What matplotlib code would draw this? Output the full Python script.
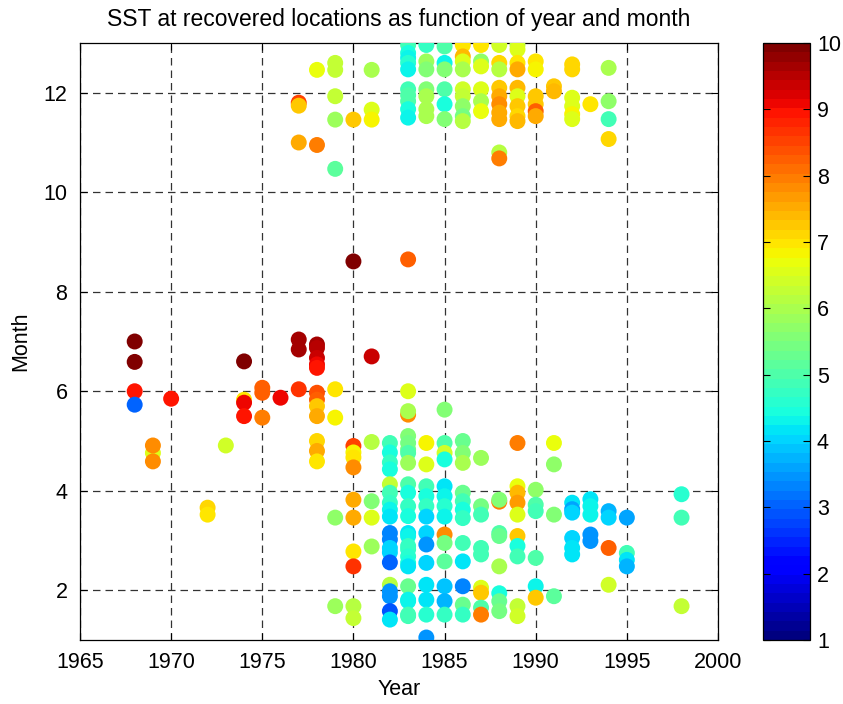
import matplotlib
matplotlib.use("Agg")
import matplotlib.pyplot as plt
import numpy as np

plt.rcParams['font.family'] = ['Liberation Sans', 'DejaVu Sans']

title = "SST at recovered locations as function of year and month"
x_label = "Year"
y_label = "Month"
x_ticks = [1965, 1970, 1975, 1980, 1985, 1990, 1995, 2000]
y_ticks = [2, 4, 6, 8, 10, 12]
cbar_ticks = [1, 2, 3, 4, 5, 6, 7, 8, 9, 10]

years = [1968, 1969, 1970, 1972, 1973, 1974, 1975, 1976, 1977, 1978, 1979, 1980,
         1981, 1982, 1983, 1984, 1985, 1986, 1987, 1988, 1989, 1990, 1991, 1992,
         1993, 1994, 1995, 1998]

months_by_year = [
    [7.0, 6.59, 6.0, 5.73],
    [4.76, 4.91, 4.59],
    [5.85],
    [3.66, 3.52],
    [4.91],
    [6.6, 5.83, 5.77, 5.5],
    [6.07, 5.97, 5.47],
    [5.87],
    [11.8, 11.74, 11.0, 7.04, 6.84, 6.04],
    [12.46, 10.95, 6.94, 6.87, 6.67, 6.54, 6.47, 5.97, 5.83, 5.7, 5.5, 5.0, 4.8, 4.59],
    [12.6, 12.46, 11.93, 11.46, 10.47, 6.04, 5.47, 3.46, 1.68],
    [11.46, 8.61, 4.9, 4.77, 4.67, 4.47, 3.82, 3.46, 2.78, 2.48, 1.68, 1.44],
    [12.46, 11.66, 11.46, 6.7, 4.98, 3.79, 3.46, 2.88],
    [2.11, 4.96, 4.77, 4.57, 4.43, 4.13, 3.96, 3.76, 3.62, 3.48, 3.15, 3.02, 2.85,
     2.76, 2.56, 1.98, 1.88, 1.58, 1.41],
    [12.96, 12.8, 12.7, 12.6, 12.47, 12.07, 11.95, 11.83, 11.67, 11.5,
     8.65, 6.0, 5.53, 5.6,
     5.1, 4.96, 4.83, 4.76, 4.56, 4.13, 3.96, 3.69, 3.49, 3.15, 3.09, 2.89, 2.82,
     2.68, 2.55, 2.48, 2.08, 1.81, 1.78, 1.51, 1.48],
    [12.96, 12.63, 12.47, 12.07, 11.93, 11.67, 11.53,
     4.96, 4.53, 4.09, 3.89, 3.69, 3.48, 3.15, 2.92, 2.55, 2.11, 1.81, 1.51, 1.05],
    [12.93, 12.6, 12.47, 12.07, 11.77, 11.47, 5.63,
     4.96, 4.76, 4.63, 4.09, 3.89, 3.69, 3.48, 3.12, 2.95, 2.58, 2.08, 1.78, 1.51],
    [12.96, 12.73, 12.63, 12.47, 12.07, 11.93, 11.73, 11.53, 11.43,
     5.0, 4.76, 4.56, 3.96, 3.79, 3.62, 3.45, 2.95, 2.58, 2.08, 1.71, 1.51],
    [12.96, 12.63, 12.53, 12.07, 11.83, 11.63,
     4.66, 3.69, 3.52, 2.85, 2.72, 2.05, 1.95, 1.65, 1.51],
    [12.96, 12.6, 12.47, 12.1, 11.93, 11.77, 11.6, 11.47, 10.8, 10.68,
     3.78, 3.82, 3.15, 3.09, 2.48, 1.94, 1.78, 1.58],
    [12.96, 12.87, 12.6, 12.47, 12.1, 11.93, 11.73, 11.53, 11.43,
     4.96, 4.09, 3.96, 3.76, 3.52, 3.09, 2.89, 2.68, 1.68, 1.48],
    [12.63, 12.47, 11.93, 11.77, 11.63, 11.53, 4.02, 3.72, 3.59, 2.65, 2.08, 1.85],
    [12.13, 12.03, 4.96, 4.53, 3.52, 1.88],
    [12.57, 12.47, 11.9, 11.73, 11.57, 11.47, 3.76, 3.63, 3.56, 3.05, 2.85, 2.72],
    [11.77, 3.83, 3.69, 3.52, 3.12, 2.99],
    [12.5, 11.83, 11.47, 11.07, 3.59, 3.46, 2.85, 2.11],
    [3.46, 2.75, 2.61, 2.48],
    [3.93, 3.46, 1.68],
]

sst_by_year = [
    [9.9, 9.9, 9.0, 3.1],
    [6.5, 7.8, 7.8],
    [8.9],
    [7.1, 7.0],
    [6.4],
    [10.0, 7.0, 9.1, 9.0],
    [8.3, 8.2, 8.0],
    [9.1],
    [8.5, 7.3, 7.5, 9.6, 9.6, 8.7],
    [6.7, 8.0, 9.6, 9.5, 9.4, 9.1, 9.0, 8.4, 8.3, 7.3, 7.6, 7.1, 7.6, 7.0],
    [6.3, 6.3, 6.3, 5.9, 5.2, 7.0, 6.8, 5.7, 5.8],
    [7.2, 10.0, 8.5, 6.8, 7.0, 7.8, 7.6, 7.6, 7.0, 8.6, 6.2, 6.3],
    [6.0, 6.5, 6.8, 9.3, 6.2, 5.6, 6.5, 5.9],
    [6.2, 4.8, 4.5, 4.7, 4.4, 6.3, 4.9, 4.7, 4.3, 4.1, 3.3, 3.3, 4.0,
     4.0, 3.0, 3.4, 3.5, 2.9, 4.1],
    [4.8, 4.5, 4.3, 4.6, 4.3, 4.8, 5.0, 5.0, 4.4, 4.3,
     8.3, 6.5, 7.8, 6.0,
     5.5, 5.4, 5.4, 5.0, 5.9, 5.0, 4.5, 4.7, 4.4, 4.2, 4.3, 4.7, 4.7,
     4.6, 4.5, 4.2, 5.3, 4.3, 4.3, 4.8, 4.8],
    [4.7, 5.8, 5.6, 5.5, 6.0, 6.0, 6.0,
     6.8, 6.5, 4.8, 4.4, 4.7, 4.0, 4.0, 3.5, 4.0, 4.2, 4.2, 4.6, 3.5],
    [5.0, 4.3, 5.5, 5.0, 4.5, 5.5, 5.6,
     5.0, 6.4, 4.5, 4.2, 4.3, 4.6, 4.3, 7.8, 5.4, 5.2, 3.9, 3.8, 4.7],
    [7.0, 7.4, 6.6, 6.0, 6.4, 6.3, 5.7, 5.4, 6.1,
     5.3, 5.5, 6.0, 5.3, 4.9, 4.4, 4.7, 4.9, 4.2, 3.3, 5.3, 4.7],
    [7.0, 5.7, 6.5, 6.6, 6.0, 6.7,
     5.8, 5.4, 4.8, 4.9, 4.8, 6.6, 7.3, 5.0, 8.0],
    [6.4, 7.1, 6.2, 7.3, 7.6, 7.8, 7.6, 7.5, 6.2, 8.0,
     8.0, 5.5, 5.0, 5.3, 6.0, 4.4, 5.3, 5.4],
    [6.3, 6.5, 7.0, 7.6, 7.4, 6.5, 7.2, 7.1, 7.4,
     7.9, 6.7, 7.4, 7.7, 6.5, 7.3, 4.4, 4.8, 6.3, 6.4],
    [7.0, 6.8, 7.2, 7.3, 8.3, 7.5, 5.7, 5.0, 4.9, 5.0, 4.3, 7.3],
    [7.2, 7.4, 6.7, 5.7, 5.6, 5.2],
    [7.1, 7.1, 6.5, 6.5, 6.8, 6.6, 4.2, 3.6, 4.0, 4.0, 4.2, 4.2],
    [7.0, 4.2, 4.3, 4.3, 3.4, 3.5],
    [6.0, 5.7, 4.9, 7.1, 3.8, 4.0, 8.3, 6.4],
    [3.6, 4.8, 4.2, 3.7],
    [4.6, 4.8, 6.3],
]

x_all, y_all, c_all = [], [], []
for yr, ms, ss in zip(years, months_by_year, sst_by_year):
    for m, s in zip(ms, ss):
        x_all.append(yr)
        y_all.append(m)
        c_all.append(s)

cmap = plt.get_cmap('jet').resampled(64)

fig = plt.figure(figsize=(8.43, 7.04), dpi=100)
ax = fig.add_axes([80/843, 1-640/704, (718-80)/843, (640-43)/704])
cax = fig.add_axes([763/843, 1-640/704, (810-763)/843, (640-43)/704])

sc = ax.scatter(x_all, y_all, c=c_all, cmap=cmap, vmin=1, vmax=10,
                s=132, edgecolors='none', zorder=3)

fs = 15.5
ax.set_xlim(1965, 2000)
ax.set_ylim(1, 13)
ax.set_xticks(x_ticks)
ax.set_yticks(y_ticks)
ax.grid(True, color='0.2', linestyle=(0, (6, 4)), linewidth=0.9, zorder=0)
ax.set_axisbelow(True)
ax.tick_params(direction='in', top=True, right=True, labelsize=fs, length=5)
ax.tick_params(axis='x', pad=9)
ax.tick_params(axis='y', pad=9)
for sp in ax.spines.values():
    sp.set_linewidth(0.9)
ax.set_xlabel(x_label, fontsize=fs, labelpad=4)
ax.set_ylabel(y_label, fontsize=fs, labelpad=9)
ax.set_title(title, fontsize=16.5, pad=12)

cb = fig.colorbar(sc, cax=cax, ticks=cbar_ticks)
cb.ax.tick_params(direction='in', left=True, right=True, labelsize=fs, length=5, pad=5)
cb.outline.set_linewidth(0.9)

fig.savefig("out.png", dpi=100)
